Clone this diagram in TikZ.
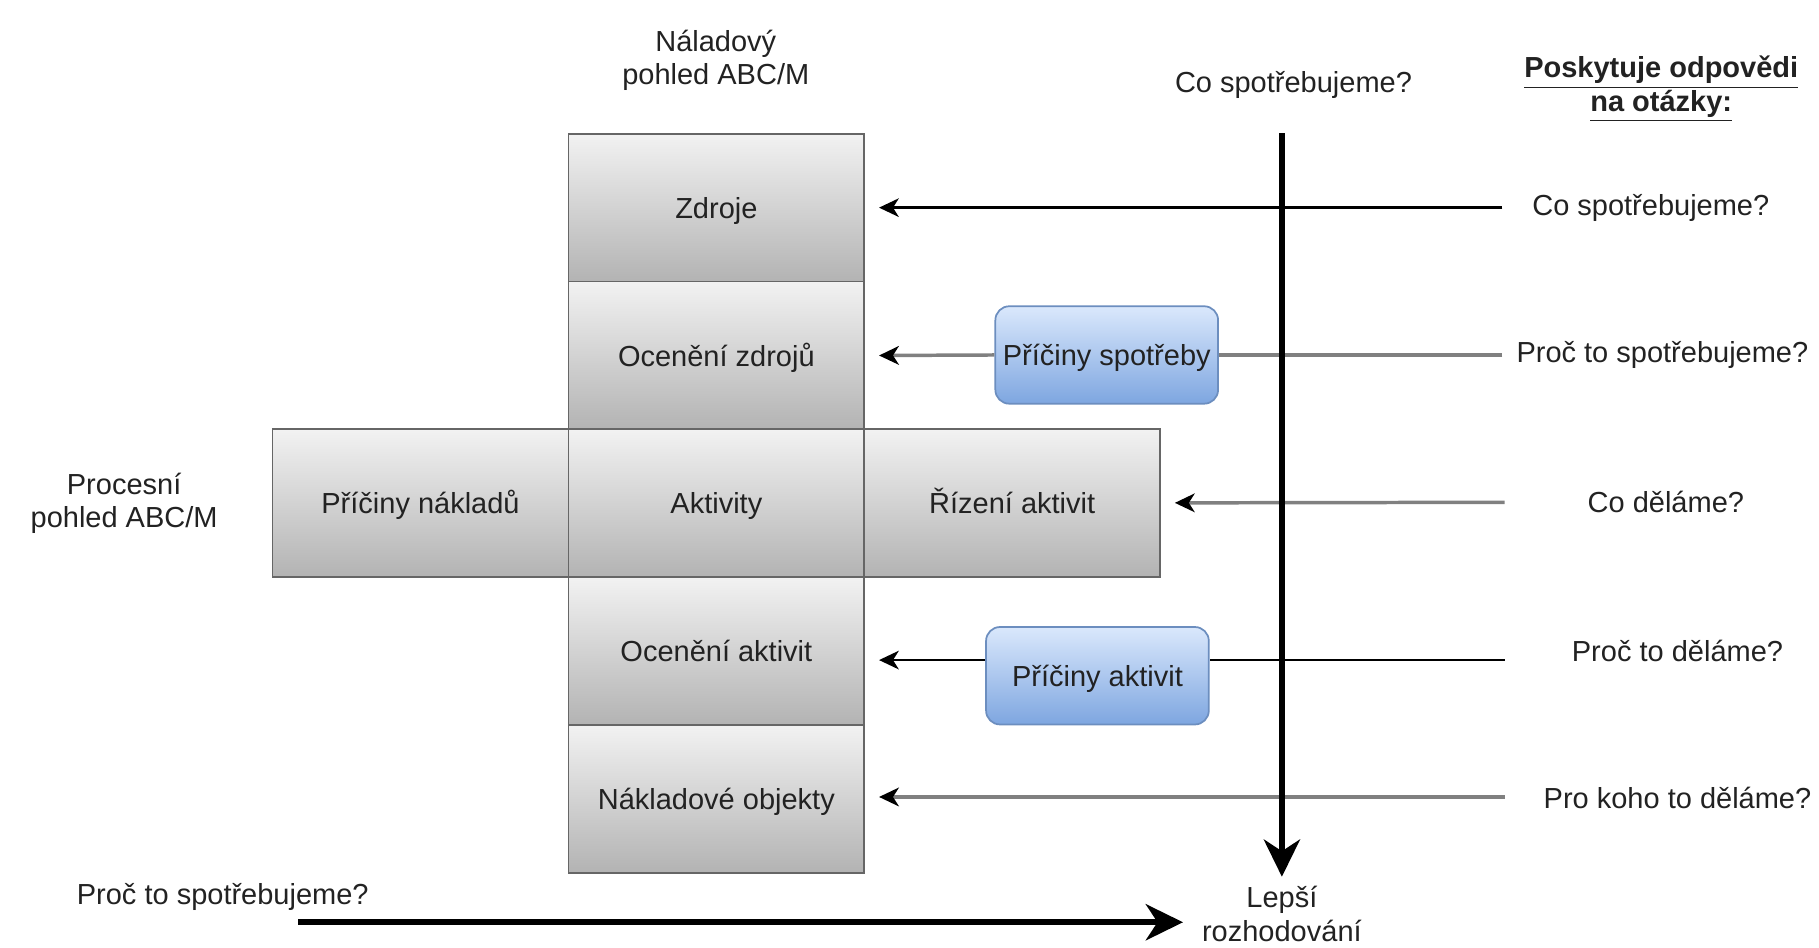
\documentclass[tikz,border=0pt]{standalone}
\usepackage{fontspec}
\setmainfont{Liberation Sans}
\usetikzlibrary{arrows.meta}
\definecolor{boxtop}{HTML}{F2F2F2}
\definecolor{boxbot}{HTML}{B3B3B3}
\definecolor{boxline}{HTML}{666666}
\definecolor{bluetop}{HTML}{DAE8FC}
\definecolor{bluebot}{HTML}{7EA6E0}
\definecolor{blueline}{HTML}{6C8EBF}
\definecolor{txt}{HTML}{222222}
\definecolor{lgray}{HTML}{808080}
\begin{document}
\begin{tikzpicture}[x=0.5pt,y=-0.5pt,font=\fontsize{12.5}{14.5}\selectfont,text=txt]
\tikzset{
  graybox/.style={draw=boxline,line width=0.75pt,top color=boxtop,bottom color=boxbot,
    minimum width=127.5pt,minimum height=63.75pt,inner sep=0pt,text height=9pt,text depth=0pt},
  bluebox/.style={draw=blueline,line width=0.75pt,top color=bluetop,bottom color=bluebot,
    rounded corners=6pt,minimum width=96pt,minimum height=42pt,inner sep=0pt,text height=9pt,text depth=0pt},
  lbl/.style={align=center,inner sep=0pt},
  blackarrow/.style={draw=black,line width=1pt,-{Stealth[length=8.5pt,width=8pt,inset=2.5pt,black]},shorten >=6pt},
  grayarrow/.style={draw=lgray,line width=1.5pt,-{Stealth[length=8.5pt,width=8pt,inset=2.5pt,black]},shorten >=6pt},
  grayline/.style={draw=lgray,line width=1.5pt},
  blackline/.style={draw=black,line width=1pt},
  bigarrow/.style={draw=black,line width=2.75pt,-{Stealth[length=16pt,width=15.5pt,inset=5pt]}}
}
\useasboundingbox (0,0) rectangle (1568,817);

% boxes
\node[graybox] (zdroje) at (617.5,179) {Zdroje};
\node[graybox] (ocz) at (617.5,306.5) {Ocenění zdrojů};
\node[graybox] (pn) at (362.5,433.5) {Příčiny nákladů};
\node[graybox] (akt) at (617.5,433.5) {Aktivity};
\node[graybox] (ra) at (872.5,433.5) {Řízení aktivit};
\node[graybox] (oa) at (617.5,561) {Ocenění aktivit};
\node[graybox] (no) at (617.5,688.5) {Nákladové objekty};

\node[bluebox] (ps) at (954,306) {Příčiny spotřeby};
\node[bluebox] (pa) at (946,582.5) {Příčiny aktivit};

% labels
\node[lbl] (nal) at (617,52) {Náladový\\pohled ABC/M};
\node[lbl] (proc) at (107,434) {Procesní\\pohled ABC/M};
\node[lbl] (cotop) at (1115,73) {Co spotřebujeme?};
\node[lbl,font=\fontsize{12.5}{14.5}\selectfont\bfseries] (posk) at (1432,77)
  {\underline{Poskytuje odpovědi}\\\underline{na otázky:}};
\node[lbl] (q1) at (1423,179) {Co spotřebujeme?};
\node[lbl] (q2) at (1433,306) {Proč to spotřebujeme?};
\node[lbl] (q3) at (1436,433) {Co děláme?};
\node[lbl] (q4) at (1446,561) {Proč to děláme?};
\node[lbl] (q5) at (1446,688) {Pro koho to děláme?};
\node[lbl] (qb) at (192,773) {Proč to spotřebujeme?};
\node[lbl] (lep) at (1105,788) {Lepší\\rozhodování};

% connector start points
\coordinate (s1) at (1295,179);
\coordinate (s2) at (1295,306);
\coordinate (s3) at (1297,433);
\coordinate (s4) at (1297,569);
\coordinate (s5) at (1297,687);
\coordinate (vtop) at (1105,115);
\coordinate (bstart) at (257,795);

% horizontal connectors
\draw[blackarrow] (s1) -- (zdroje.east);
\draw[grayline] (s2) -- (ps.east);
\draw[grayarrow] (ps.west) -- (ocz.east);
\draw[grayarrow] (s3) -- (ra.east);
\draw[blackline] (s4) -- (s4 -| pa.east);
\draw[blackarrow] (s4 -| pa.west) -- (s4 -| oa.east);
\draw[grayarrow] (s5) -- (s5 -| no.east);

% thick arrows
\draw[bigarrow,shorten >=4pt] (vtop) -- (lep.north);
\draw[bigarrow,shorten >=8pt] (bstart) -- (bstart -| lep.west);
\end{tikzpicture}
\end{document}
